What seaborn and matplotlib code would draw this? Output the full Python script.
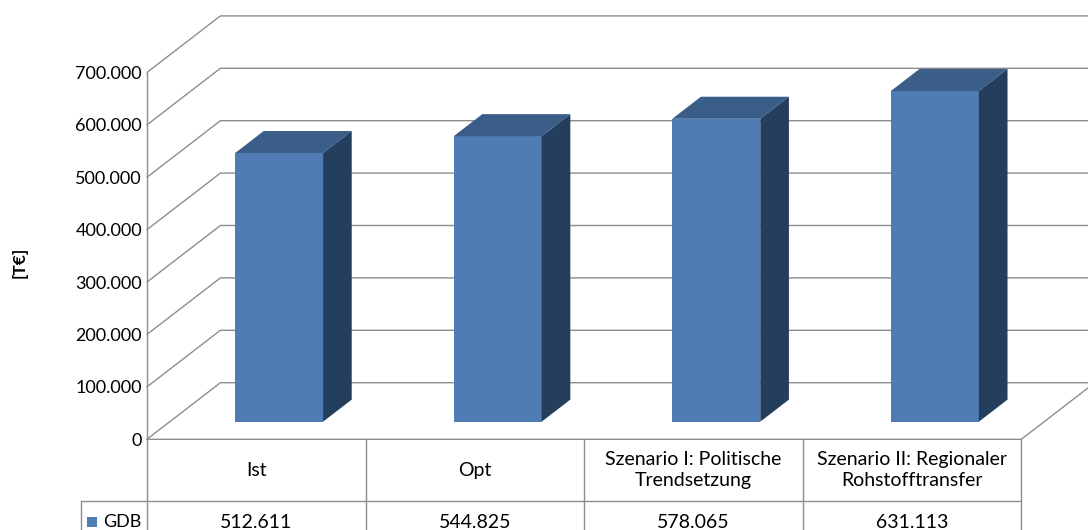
import matplotlib
matplotlib.use("Agg")
import matplotlib.pyplot as plt
import pandas as pd
import seaborn as sns
from matplotlib.patches import Polygon, Rectangle

# ---- data -------------------------------------------------------------
categories = [
    "Ist",
    "Opt",
    "Szenario I: Politische\nTrendsetzung",
    "Szenario II: Regionaler\nRohstofftransfer",
]
gdb_values = [512611, 544825, 578065, 631113]
y_ticks = [0, 100000, 200000, 300000, 400000, 500000, 600000, 700000]
series_name = "GDB"
unit_label = "[T€]"

# ---- style ------------------------------------------------------------
sns.set_theme(style="white")
plt.rcParams["font.family"] = ["Lato", "DejaVu Sans"]

FRONT = "#4F7CB3"
TOP = "#3A5E88"
SIDE = "#243F5E"
GRID = "#8E8E8E"
TICK_SIZE = 13
CELL_SIZE = 14

# ---- layout (pixel geometry of the oblique 3-D box) -------------------
W, H, DPI = 1088, 530, 100
CAT_PX = 218.6          # width of one category column
CAT0_PX = 256.2         # centre of the first column
FLOOR_PX = 439.3        # front edge of the floor
PX_PER_UNIT = 0.000524  # vertical pixels per value unit


def px_x(px):
    return (px - CAT0_PX) / CAT_PX


def px_len_y(px):
    return px / PX_PER_UNIT


def px_y(py):
    return (FLOOR_PX - py) / PX_PER_UNIT


DEPTH_X = 73.5 / CAT_PX          # full depth of the box
DEPTH_Y = px_len_y(56.6)
BAR_FRONT = 0.311                # depth position of the bar front faces
BAR_DEPTH = 0.39                 # depth of the bars
BAR_WIDTH = 88.0 / CAT_PX

fig = plt.figure(figsize=(W / DPI, H / DPI), dpi=DPI)
ax = fig.add_axes([0, 0, 1, 1])
ax.set_facecolor("white")

df = pd.DataFrame({"Szenario": categories, series_name: gdb_values})
sns.barplot(data=df, x="Szenario", y=series_name, color=FRONT, saturation=1,
            width=BAR_WIDTH, ax=ax, zorder=4, linewidth=0)

# push the bar fronts back into the box and add top / side faces
bdx, bdy = BAR_DEPTH * DEPTH_X, BAR_DEPTH * DEPTH_Y
for patch in ax.patches:
    patch.set_x(patch.get_x() + BAR_FRONT * DEPTH_X)
    patch.set_y(patch.get_y() + BAR_FRONT * DEPTH_Y)
    x0 = patch.get_x()
    x1 = x0 + patch.get_width()
    y0 = patch.get_y()
    y1 = y0 + patch.get_height()
    ax.add_patch(Polygon([(x0, y1), (x1, y1), (x1 + bdx, y1 + bdy), (x0 + bdx, y1 + bdy)],
                         closed=True, facecolor=TOP, edgecolor="none", zorder=4))
    ax.add_patch(Polygon([(x1, y0), (x1 + bdx, y0 + bdy), (x1 + bdx, y1 + bdy), (x1, y1)],
                         closed=True, facecolor=SIDE, edgecolor="none", zorder=4))

n = len(categories)
left, right = -0.5, n - 0.5

# walls: left-wall diagonals and back-wall gridlines
for v in y_ticks:
    ax.plot([left, left + DEPTH_X, right + DEPTH_X + 1],
            [v, v + DEPTH_Y, v + DEPTH_Y], color=GRID, lw=1.0, zorder=1)

# floor front and right edge
ax.plot([left, right, right + DEPTH_X], [0, 0, DEPTH_Y], color=GRID, lw=1.0, zorder=1)

# data table beneath the floor
y_bottom = px_y(H + 5)
row_sep = px_y(501.0)
legend_left = px_x(80.7)
for i in range(1, n + 1):
    ax.plot([left + i, left + i], [0, y_bottom], color=GRID, lw=1.0, zorder=1)
ax.plot([legend_left, right], [row_sep, row_sep], color=GRID, lw=1.0, zorder=1)
ax.plot([legend_left, legend_left], [row_sep, y_bottom], color=GRID, lw=1.0, zorder=1)

header_mid = row_sep / 2
value_mid = px_y(522.0)
for i, (cat, val) in enumerate(zip(categories, gdb_values)):
    ax.text(i, header_mid, cat, ha="center", va="center", fontsize=CELL_SIZE,
            linespacing=1.3, color="black")
    ax.text(i, value_mid, f"{val:,.0f}".replace(",", "."), ha="center", va="center",
            fontsize=CELL_SIZE, color="black")

# legend key in the table
sq_w = 10.0 / CAT_PX
sq_h = px_len_y(10.0)
ax.add_patch(Rectangle((px_x(86.7), value_mid - sq_h / 2), sq_w, sq_h,
                       facecolor=FRONT, edgecolor="none", zorder=3))
ax.text(px_x(103.0), value_mid, series_name, ha="left", va="center",
        fontsize=TICK_SIZE, color="black")

# value axis on the front-left edge of the box
ax.set_yticks(y_ticks)
ax.set_yticklabels([f"{v:,.0f}".replace(",", ".") for v in y_ticks])
ax.tick_params(axis="y", length=0, pad=3.5, labelsize=TICK_SIZE, labelcolor="black",
               left=True, labelleft=True)
for side in ("top", "right", "bottom"):
    ax.spines[side].set_visible(False)
ax.spines["left"].set_position(("data", left))
ax.spines["left"].set_bounds(y_bottom, y_ticks[-1])
ax.spines["left"].set_color(GRID)
ax.spines["left"].set_linewidth(1.0)
ax.xaxis.set_visible(False)
ax.set_ylabel("")
ax.grid(False)

ax.set_xlim(px_x(0), px_x(W))
ax.set_ylim(px_y(H), px_y(0))

fig.text(20 / W, 1 - 262 / H, unit_label, rotation=90, ha="center", va="center",
         fontsize=12.5, fontweight="bold", color="black")

fig.savefig("out.png", dpi=DPI, facecolor="white")
